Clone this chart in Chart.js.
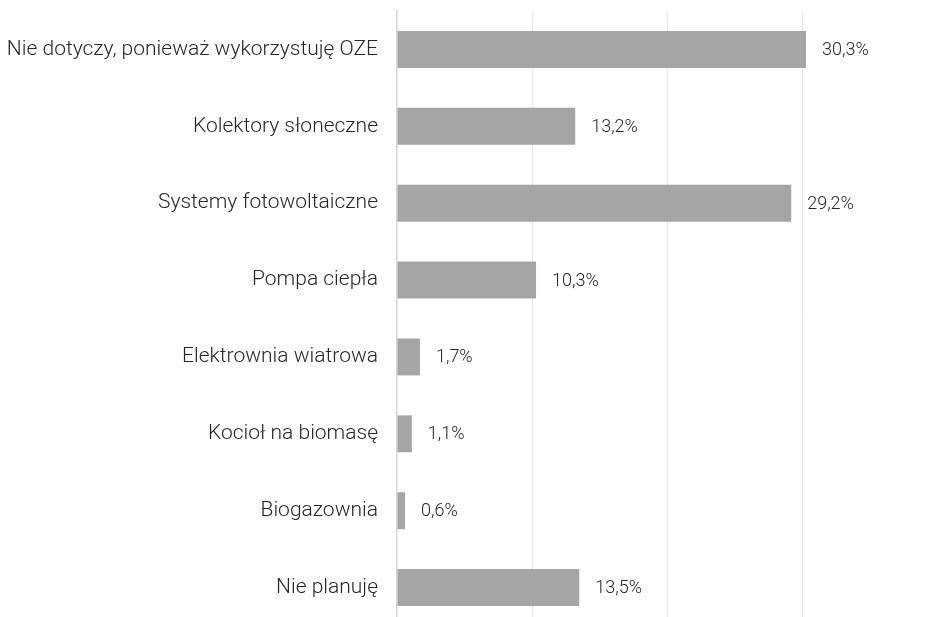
<!DOCTYPE html>
<html>
<head>
<meta charset="utf-8">
<script src="https://cdn.jsdelivr.net/npm/chart.js@4/dist/chart.umd.min.js"></script>
<style>
  html, body { margin: 0; padding: 0; background: #fff; overflow: hidden; }
  #wrap { position: absolute; left: 0; top: 0; width: 937px; height: 626px; }
</style>
</head>
<body>
<div id="wrap"><canvas id="myChart"></canvas></div>
<script>
const categories = [
  "Nie dotyczy, ponieważ wykorzystuję OZE",
  "Kolektory słoneczne",
  "Systemy fotowoltaiczne",
  "Pompa ciepła",
  "Elektrownia wiatrowa",
  "Kocioł na biomasę",
  "Biogazownia",
  "Nie planuję"
];
const shares = [30.3, 13.2, 29.2, 10.3, 1.7, 1.1, 0.6, 13.5];
const gridTicks = [0, 10, 20, 30, 40];

const fmt = v => v.toFixed(1).replace('.', ',') + '%';

// value labels to the right of each bar
const barLabels = {
  id: 'barLabels',
  afterDatasetsDraw(chart) {
    const ctx = chart.ctx;
    const meta = chart.getDatasetMeta(0);
    ctx.save();
    ctx.font = '300 18px Roboto';
    ctx.fillStyle = '#262626';
    ctx.textAlign = 'left';
    ctx.textBaseline = 'middle';
    meta.data.forEach((bar, i) => {
      ctx.fillText(fmt(shares[i]), bar.x + 16, bar.y + 1);
    });
    ctx.restore();
  }
};

const ctx = document.getElementById('myChart').getContext('2d');
new Chart(ctx, {
  type: 'bar',
  data: {
    labels: categories,
    datasets: [{
      data: shares,
      backgroundColor: '#a5a5a5',
      borderWidth: 0,
      categoryPercentage: 1,
      barPercentage: 0.48
    }]
  },
  options: {
    indexAxis: 'y',
    responsive: true,
    maintainAspectRatio: false,
    animation: false,
    layout: { padding: { top: 11, left: 0, right: 0, bottom: 0 } },
    plugins: {
      legend: { display: false },
      tooltip: { enabled: false }
    },
    scales: {
      x: {
        min: 0,
        max: 40,
        afterBuildTicks: scale => { scale.ticks = gridTicks.map(v => ({ value: v })); },
        afterFit: scale => {
          scale.height = 0;
          scale.paddingLeft = 0; scale.paddingRight = 0;
        },
        ticks: { display: false },
        border: { display: false },
        grid: {
          drawTicks: false,
          color: c => c.tick.value === 0 ? 'rgba(0,0,0,0)' : '#e6e6e6',
          lineWidth: 1
        }
      },
      y: {
        afterFit: scale => {
          scale.width = 397;
          scale.paddingTop = 0; scale.paddingBottom = 0;
        },
        border: { display: true, color: '#d4d4d4', width: 1.5 },
        grid: { display: false, drawTicks: false },
        ticks: {
          padding: 19,
          color: '#262626',
          font: { family: 'Roboto', size: 21, weight: '300' }
        }
      }
    }
  },
  plugins: [barLabels]
});
</script>
</body>
</html>
